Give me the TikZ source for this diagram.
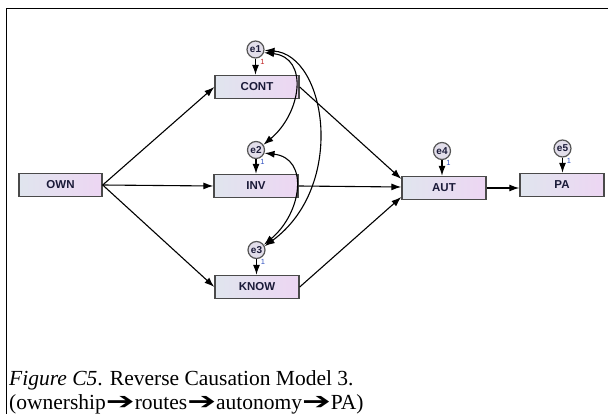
\documentclass[tikz,border=0pt]{standalone}
\usepackage{fontspec}
\usepackage{graphicx}
\setmainfont{Liberation Serif}
\setsansfont{Liberation Sans}
\newfontfamily\arrowfont{DejaVu Sans}
\usetikzlibrary{arrows.meta}

\definecolor{boxl}{HTML}{E0E5EE}
\definecolor{boxr}{HTML}{EDD6F3}
\definecolor{boxline}{HTML}{4A4A4A}
\definecolor{errfill}{HTML}{E2DEEA}
\definecolor{errline}{HTML}{555555}
\definecolor{navy}{HTML}{1A1A38}
\definecolor{onered}{HTML}{C02020}
\definecolor{oneblue}{HTML}{3050C0}

\newcommand{\capArrow}{{\arrowfont\scalebox{1.6}[1.1]{➔}}}

\begin{document}
\begin{tikzpicture}[x=1pt,y=-1pt,
  var/.style={draw=boxline, line width=1.4pt, left color=boxl, right color=boxr,
    minimum width=84pt, minimum height=23pt, inner sep=0pt,
    font=\sffamily\bfseries\fontsize{11.5}{12}\selectfont, text=navy},
  err/.style={circle, draw=errline, line width=1.2pt, fill=errfill,
    minimum size=17pt, inner sep=0pt,
    font=\sffamily\bfseries\fontsize{10}{10}\selectfont, text=navy},
  one/.style={inner sep=0pt, font=\sffamily\fontsize{7.5}{7}\selectfont},
  path/.style={-{Latex[length=10pt,width=7pt]}, line width=1.1pt},
  cov/.style={{Latex[length=10pt,width=7pt]}-{Latex[length=10pt,width=7pt]}, line width=1.1pt},
  caption/.style={anchor=base west, inner sep=0pt, font=\fontsize{21.5}{24}\selectfont}]
\useasboundingbox (0,0) rectangle (608,414);

% frame
\draw[line width=1.8pt] (6.5,414) -- (6.5,8.5) -- (608,8.5);

% observed variables
\node[var, minimum width=83pt] (OWN) at (60.5,185) {OWN};
\node[var] (CONT) at (257,87) {CONT};
\node[var] (INV) at (256,186) {INV};
\node[var] (KNOW) at (257,287) {KNOW};
\node[var] (AUT) at (444,188) {AUT};
\node[var] (PA) at (562,185) {PA};

% error terms
\node[err] (e1) at (255.5,49.5) {e1};
\node[err] (e2) at (256,150) {e2};
\node[err] (e3) at (256.5,250) {e3};
\node[err] (e4) at (442,151) {e4};
\node[err] (e5) at (562.5,148.5) {e5};

\node[one, text=onered] (o1) at (262.5,61.5) {1};
\node[one, text=oneblue] (o2) at (262.5,162) {1};
\node[one, text=oneblue] (o3) at (263,262) {1};
\node[one, text=oneblue] (o4) at (448.5,163) {1};
\node[one, text=oneblue] (o5) at (569,160.5) {1};

% regression paths
\draw[path] (OWN.east) -- (CONT.west);
\draw[path] (OWN.east) -- (INV.west);
\draw[path] (OWN.east) -- (KNOW.west);
\draw[path] (CONT.east) -- ([yshift=9pt]AUT.west);
\draw[path] (INV.east) -- ([yshift=1pt]AUT.west);
\draw[path] (KNOW.east) -- ([yshift=-9pt]AUT.west);
\draw[path] (AUT.east) -- (AUT.east -| PA.west);

% error paths
\draw[path] (e1.south) -- (e1.south |- CONT.north);
\draw[path] (e2.south) -- (e2.south |- INV.north);
\draw[path] (e3.south) -- (e3.south |- KNOW.north);
\draw[path] (e4.south) -- (e4.south |- AUT.north);
\draw[path] (e5.south) -- (e5.south |- PA.north);

% covariances among the errors
\draw[cov] (e1.-20) .. controls +(45,5) and +(38,-32) .. (e2.35);
\draw[cov] (e2.-20) .. controls +(45,5) and +(38,-32) .. (e3.35);
\draw[cov] (e1.-5) .. controls +(62,5) and +(82,-60) .. (e3.25);

% caption
\node[caption] (cap1) at (9,385) {\textit{Figure C5}. Reverse Causation Model 3.};
\node[caption] (cap2) at (9,409) {(ownership\capArrow routes\capArrow autonomy\capArrow PA)};
\end{tikzpicture}
\end{document}
